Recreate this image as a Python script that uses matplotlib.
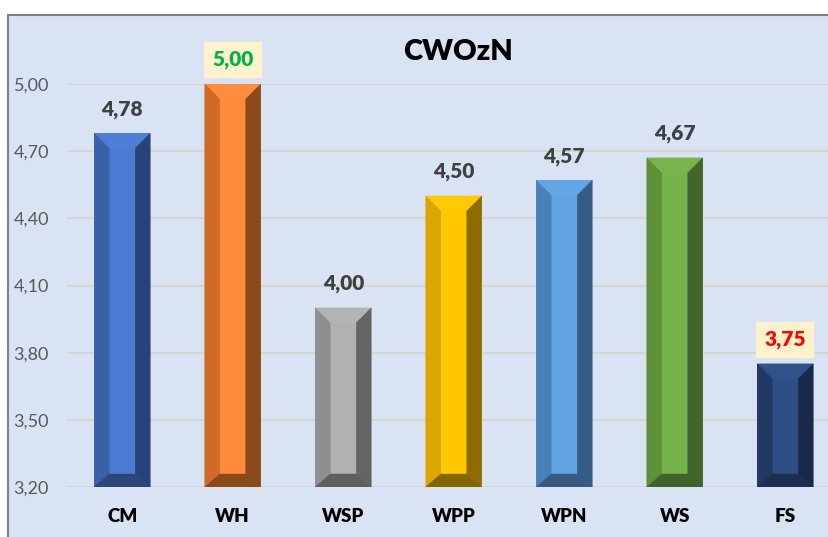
import matplotlib
matplotlib.use("Agg")
import matplotlib.pyplot as plt
from matplotlib.patches import Polygon, Rectangle
from matplotlib.ticker import FixedLocator, FuncFormatter

categories = ["CM", "WH", "WSP", "WPP", "WPN", "WS", "FS"]
values = [4.78, 5.00, 4.00, 4.50, 4.57, 4.67, 3.75]
value_labels = ["4,78", "5,00", "4,00", "4,50", "4,57", "4,67", "3,75"]
y_ticks = [3.20, 3.50, 3.80, 4.10, 4.40, 4.70, 5.00]

# colour sets: face, left, right, top, bottom
colors = [
    ("#4A7BD1", "#3961A8", "#26447A", "#4D7FD6", "#2C4677"),
    ("#FF8A3C", "#CF6B27", "#8A4A1C", "#FF8C3F", "#8A4A1C"),
    ("#B1B1B1", "#8E8E8E", "#646464", "#B4B4B4", "#5F5F5F"),
    ("#FFC800", "#DBA600", "#8F6B00", "#FFCA05", "#856500"),
    ("#62A4E2", "#4A80B8", "#355C85", "#64A6E4", "#385A7E"),
    ("#76B34C", "#5F9139", "#42652B", "#78B54E", "#41622B"),
    ("#2E4F85", "#213A63", "#18294A", "#30528A", "#1E2E4F"),
]
label_colors = ["#404040", "#00B050", "#404040", "#404040", "#404040", "#404040", "#FF0000"]
boxed = [False, True, False, False, False, False, True]

W, H = 829, 537
fig = plt.figure(figsize=(W / 100, H / 100), dpi=100)
fig.patch.set_facecolor("white")

# chart area background with border
bg = Rectangle((8 / W, -0.05), 1.2, (H - 15) / H + 0.05, transform=fig.transFigure,
               facecolor="#DAE3F3", edgecolor="#808080", linewidth=1.5, zorder=-10)
fig.patches.append(bg)

ymin, ymax = 3.20, 5.00
ax_left, ax_right = 67, 840.5
ax_bottom, ax_top = 487, 84
ax = fig.add_axes([ax_left / W, (H - ax_bottom) / H, (ax_right - ax_left) / W, (ax_bottom - ax_top) / H])
ax.set_facecolor("none")
ax.set_xlim(-0.5, len(categories) - 0.5)
ax.set_ylim(ymin, ymax)
for s in ax.spines.values():
    s.set_visible(False)

ax.yaxis.set_major_locator(FixedLocator(y_ticks))
ax.yaxis.set_major_formatter(FuncFormatter(lambda v, p: f"{v:.2f}".replace(".", ",")))
ax.grid(axis="y", color="#D6D6D0", linewidth=1.5, zorder=0)
ax.set_axisbelow(True)
ax.tick_params(axis="y", length=0, pad=13, labelsize=13, labelcolor="#595959")
ax.tick_params(axis="x", length=0, pad=15, labelsize=13.5)
ax.set_xticks(range(len(categories)))
ax.set_xticklabels(categories, fontweight="heavy", color="black")
for t in ax.get_yticklabels() + ax.get_xticklabels():
    t.set_fontfamily("Lato")

bar_w = 0.507
bars = ax.bar(range(len(categories)), [v - ymin for v in values], bottom=ymin, width=bar_w,
              color=[c[0] for c in colors], zorder=2, linewidth=0)

px_x = (ax_right - ax_left) / len(categories)   # pixels per x unit
px_y = (ax_bottom - ax_top) / (ymax - ymin)     # pixels per y unit
bx = 15 / px_x
bt = 15 / px_y
bb = 13 / px_y

for i, (b, v) in enumerate(zip(bars, values)):
    x0 = b.get_x()
    x1 = x0 + b.get_width()
    y0 = ymin
    y1 = v
    face, left, right, top, bottom = colors[i]
    polys = [
        ([(x0, y1), (x1, y1), (x1 - bx, y1 - bt), (x0 + bx, y1 - bt)], top),
        ([(x0, y1), (x0 + bx, y1 - bt), (x0 + bx, y0 + bb), (x0, y0)], left),
        ([(x1, y1), (x1 - bx, y1 - bt), (x1 - bx, y0 + bb), (x1, y0)], right),
        ([(x0, y0), (x1, y0), (x1 - bx, y0 + bb), (x0 + bx, y0 + bb)], bottom),
    ]
    for pts, col in polys:
        ax.add_patch(Polygon(pts, closed=True, facecolor=col, edgecolor=col, linewidth=0.3, zorder=3))

    kw = dict(ha="center", va="center", fontsize=15, fontweight="heavy", family="Lato",
              color=label_colors[i], zorder=5)
    if boxed[i]:
        kw["bbox"] = dict(boxstyle="square,pad=0.4", facecolor="#FFF2CC", edgecolor="none")
    ax.annotate(value_labels[i], xy=(b.get_x() + b.get_width() / 2, v), xytext=(0, 24 * 0.72),
                textcoords="offset points", annotation_clip=False, **kw)

fig.text(458 / W, (H - 52) / H, "CWOzN", ha="center", va="center", fontsize=21,
         fontweight="heavy", family="Lato", color="black")

fig.savefig("out.png", dpi=100)
